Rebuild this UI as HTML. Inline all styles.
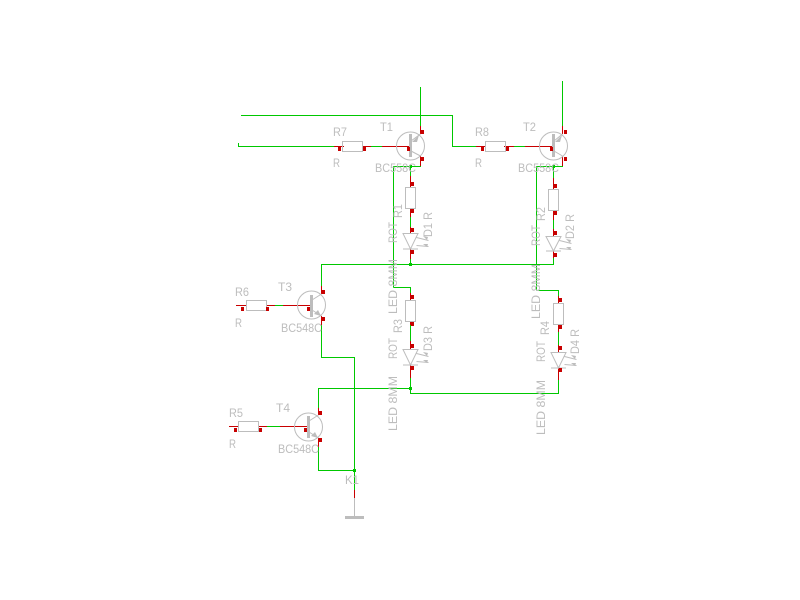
<!DOCTYPE html>
<html><head><meta charset="utf-8"><style>
html,body{margin:0;padding:0;background:#fff}
svg{display:block}
text{font-family:"Liberation Sans",sans-serif;font-size:12px;fill:#bdbdbd}
.g,.r,.s{fill:none;shape-rendering:crispEdges}
.g{stroke:#00c800}.r{stroke:#c80000}.s{stroke:#bdbdbd}
.a{fill:none;stroke:#bdbdbd}
</style></head><body>
<svg width="800" height="600" viewBox="0 0 800 600" xmlns="http://www.w3.org/2000/svg">
<!-- green wires -->
<path class="g" d="M241 115.5H452.5V146.5H476M238.5 143V146.5H334M371 146.5H382M514 146.5H525
M420.5 87V126M562.5 81V126
M393.5 287.5V166.5H420.5V157M536.5 290.5V166.5H562.5V157
M410.5 166V176M553.5 166V178
M410.5 217V227M553.5 220V229
M410.5 259V264.5M553.5 258V264.5H321.5V286
M393.5 287.5H410.5V293
M536.5 290.5H558.5V296
M410.5 325V341M558.5 332V345
M410.5 378V393.5H558.5V380
M318.5 408V388.5H410.5
M321.5 325V357.5H354.5V490
M318.5 447V470.5H354.5
M275 305.5H283M267 426.5H280"/>
<!-- red wires -->
<path class="r" d="M334 146.5H344M362 146.5H371M382 146.5H410
M476 146.5H486M504 146.5H514M525 146.5H553
M420.5 126V134M420.5 156V166M562.5 126V134M562.5 156V166
M410.5 176V188M410.5 208V217M410.5 227V233M410.5 249V259
M553.5 178V189M553.5 210V220M553.5 229V236M553.5 251V258
M410.5 293V300M410.5 321V325M410.5 341V349M410.5 365V378
M558.5 296V303M558.5 324V332M558.5 345V352M558.5 368V380
M236 305.5H247M266 305.5H275M283 305.5H311
M229 426.5H239M258 426.5H267M280 426.5H309
M321.5 286V294M321.5 316V325M318.5 408V415M318.5 438V447
M354.5 490V498"/>
<!-- resistors -->
<g class="s">
<rect x="342.5" y="141.5" width="20" height="10"/>
<rect x="485.5" y="141.5" width="20" height="10"/>
<rect x="405.5" y="187.5" width="10" height="21"/>
<rect x="548.5" y="189.5" width="10" height="21"/>
<rect x="405.5" y="300.5" width="10" height="21"/>
<rect x="553.5" y="303.5" width="10" height="21"/>
<rect x="246.5" y="300.5" width="20" height="10"/>
<rect x="238.5" y="421.5" width="20" height="10"/>
</g>
<!-- transistors -->
<g class="a">
<circle cx="410.5" cy="146" r="14"/>
<circle cx="553.5" cy="146" r="14"/>
<circle cx="311.5" cy="305" r="14"/>
<circle cx="308.5" cy="427" r="14"/>
<path d="M411 141L420.5 134M411 151L420.5 156"/>
<path d="M554 141L562.5 134M554 151L562.5 156"/>
<path d="M312 300L321.5 294M312 310L321.5 316"/>
<path d="M309 421L318.5 415M309 432L318.5 438"/>
</g>
<g fill="#bdbdbd" shape-rendering="crispEdges">
<rect x="409" y="134" width="3" height="23"/>
<rect x="552" y="134" width="3" height="23"/>
<rect x="310" y="295" width="3" height="22"/>
<rect x="307" y="416" width="3" height="22"/>
<rect x="345" y="516" width="19" height="3"/>
<rect x="354" y="498" width="1" height="18"/>
</g>
<g fill="#bdbdbd">
<path d="M412 142L419 135L417 142Z"/>
<path d="M555 142L562 135L560 142Z"/>
<path d="M321 316L314 314L318 310Z"/>
<path d="M318 438L311 436L315 432Z"/>
</g>
<!-- LEDs -->
<g class="a">
<g transform="translate(410.5,233.5)"><path d="M-7.5 0H7.5L0 15.5Z M-7.5 15.5H7.5 M6 4L18 7 M6 12L18 13"/></g>
<g transform="translate(553.5,236.5)"><path d="M-7.5 0H7.5L0 14.5Z M-7.5 14.5H7.5 M6 4L18 7 M6 12L18 13"/></g>
<g transform="translate(410.5,349.5)"><path d="M-7.5 0H7.5L0 15.5Z M-7.5 15.5H7.5 M6 4L18 7 M6 12L18 13"/></g>
<g transform="translate(558.5,352.5)"><path d="M-7.5 0H7.5L0 15.5Z M-7.5 15.5H7.5 M6 4L18 7 M6 12L18 13"/></g>
</g>
<g fill="#bdbdbd">
<path d="M423 236l5 1l-1 3zM423 244l5 0l-1 3z"/>
<path d="M566 239l5 1l-1 3zM566 247l5 0l-1 3z"/>
<path d="M423 352l5 1l-1 3zM423 360l5 0l-1 3z"/>
<path d="M571 355l5 1l-1 3zM571 363l5 0l-1 3z"/>
</g>
<!-- pads -->
<path fill="#c80000" shape-rendering="crispEdges" d="
M338 147h3v4h-3z M363 147h3v4h-3z M407 147h3v4h-3z
M481 147h3v4h-3z M506 147h3v4h-3z M550 147h3v4h-3z
M421 130h3v4h-3z M421 157h3v4h-3z M564 130h3v4h-3z M564 157h3v4h-3z
M411 182h3v4h-3z M411 209h3v4h-3z M411 228h3v4h-3z M411 250h3v4h-3z
M554 184h3v4h-3z M554 211h3v4h-3z M554 231h3v4h-3z M554 253h3v4h-3z
M411 295h3v4h-3z M411 322h3v4h-3z M411 344h3v4h-3z M411 366h3v4h-3z
M559 298h3v4h-3z M559 325h3v4h-3z M559 346h3v4h-3z M559 368h3v4h-3z
M241 307h3v4h-3z M266 307h3v4h-3z M307 307h3v4h-3z
M322 290h3v4h-3z M322 317h3v4h-3z
M234 428h3v4h-3z M259 428h3v4h-3z M304 428h3v4h-3z
M319 411h3v4h-3z M319 438h3v4h-3z"/>
<!-- junctions -->
<path fill="#00c800" shape-rendering="crispEdges" d="M409 165h3v3h-3z M552 165h3v3h-3z M409 263h3v3h-3z M409 387h3v3h-3z M353 469h3v3h-3z"/>
<!-- labels -->
<text x="333" y="136" textLength="14" lengthAdjust="spacingAndGlyphs">R7</text>
<text x="380" y="131" textLength="13" lengthAdjust="spacingAndGlyphs">T1</text>
<text x="333" y="167" textLength="7" lengthAdjust="spacingAndGlyphs">R</text>
<text x="375" y="172" textLength="41" lengthAdjust="spacingAndGlyphs">BC558C</text>
<text x="475" y="136" textLength="14" lengthAdjust="spacingAndGlyphs">R8</text>
<text x="523" y="131" textLength="13" lengthAdjust="spacingAndGlyphs">T2</text>
<text x="475" y="167" textLength="7" lengthAdjust="spacingAndGlyphs">R</text>
<text x="518" y="172" textLength="41" lengthAdjust="spacingAndGlyphs">BC558C</text>
<text x="235" y="296" textLength="14" lengthAdjust="spacingAndGlyphs">R6</text>
<text x="278" y="291" textLength="14" lengthAdjust="spacingAndGlyphs">T3</text>
<text x="235" y="327" textLength="7" lengthAdjust="spacingAndGlyphs">R</text>
<text x="281" y="332" textLength="41" lengthAdjust="spacingAndGlyphs">BC548C</text>
<text x="229" y="417" textLength="14" lengthAdjust="spacingAndGlyphs">R5</text>
<text x="276" y="412" textLength="14" lengthAdjust="spacingAndGlyphs">T4</text>
<text x="229" y="448" textLength="7" lengthAdjust="spacingAndGlyphs">R</text>
<text x="278" y="453" textLength="41" lengthAdjust="spacingAndGlyphs">BC548C</text>
<text x="345" y="484" textLength="14" lengthAdjust="spacingAndGlyphs">K1</text>
<g>
<text transform="translate(402,218) rotate(-90)" textLength="14" lengthAdjust="spacingAndGlyphs">R1</text>
<text transform="translate(397,243) rotate(-90)" textLength="21" lengthAdjust="spacingAndGlyphs">ROT</text>
<text transform="translate(432,237) rotate(-90)" textLength="25" lengthAdjust="spacingAndGlyphs">D1 R</text>
<text transform="translate(397,314) rotate(-90)" textLength="55" lengthAdjust="spacingAndGlyphs">LED 8MM</text>
<text transform="translate(545,221) rotate(-90)" textLength="14" lengthAdjust="spacingAndGlyphs">R2</text>
<text transform="translate(540,246) rotate(-90)" textLength="21" lengthAdjust="spacingAndGlyphs">ROT</text>
<text transform="translate(574,239) rotate(-90)" textLength="25" lengthAdjust="spacingAndGlyphs">D2 R</text>
<text transform="translate(540,319) rotate(-90)" textLength="55" lengthAdjust="spacingAndGlyphs">LED 8MM</text>
<text transform="translate(402,333) rotate(-90)" textLength="14" lengthAdjust="spacingAndGlyphs">R3</text>
<text transform="translate(397,359) rotate(-90)" textLength="21" lengthAdjust="spacingAndGlyphs">ROT</text>
<text transform="translate(432,351) rotate(-90)" textLength="25" lengthAdjust="spacingAndGlyphs">D3 R</text>
<text transform="translate(397,431) rotate(-90)" textLength="55" lengthAdjust="spacingAndGlyphs">LED 8MM</text>
<text transform="translate(549,335) rotate(-90)" textLength="14" lengthAdjust="spacingAndGlyphs">R4</text>
<text transform="translate(545,362) rotate(-90)" textLength="21" lengthAdjust="spacingAndGlyphs">ROT</text>
<text transform="translate(579,354) rotate(-90)" textLength="25" lengthAdjust="spacingAndGlyphs">D4 R</text>
<text transform="translate(545,435) rotate(-90)" textLength="55" lengthAdjust="spacingAndGlyphs">LED 8MM</text>
</g>
</svg>
</body></html>
